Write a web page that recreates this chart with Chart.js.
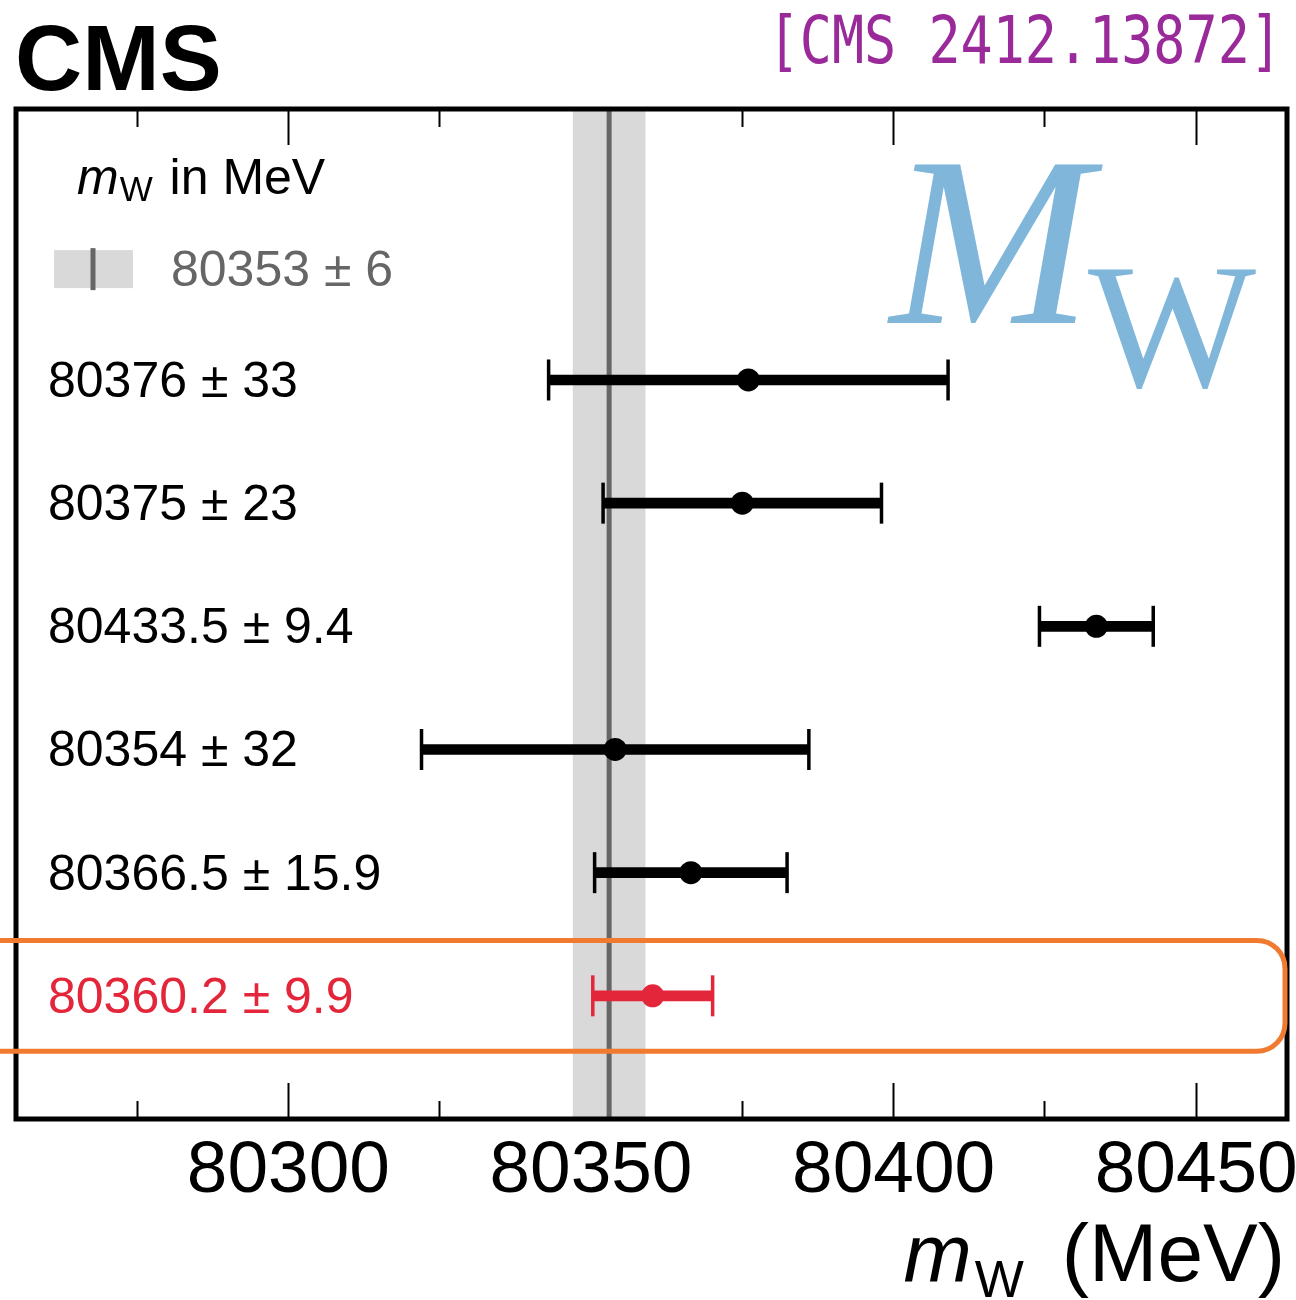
<!DOCTYPE html>
<html><head><meta charset="utf-8">
<script src="https://cdn.jsdelivr.net/npm/chart.js@4/dist/chart.umd.min.js"></script>
<style>html,body{margin:0;padding:0;background:#fff;}#wrap{width:1296px;height:1300px;}</style>
</head><body><div id="wrap"><canvas id="c" width="1296" height="1300"></canvas></div>
<script>
// ---------------- data ----------------
const ROW_LABELS = ['80376 ± 33', '80375 ± 23', '80433.5 ± 9.4', '80354 ± 32', '80366.5 ± 15.9', '80360.2 ± 9.9'];
const CENTRAL = [80376, 80375, 80433.5, 80354, 80366.5, 80360.2];
const ERRORS = [33, 23, 9.4, 32, 15.9, 9.9];
const HIGHLIGHT = [false, false, false, false, false, true];
const REF_VALUE = 80353;
const REF_ERROR = 6;
const REF_LABEL = '80353 ± 6';
const MAJOR_TICKS = [80300, 80350, 80400, 80450];
const MINOR_TICKS = [80275, 80325, 80375, 80425];
const X_MIN = 80255, X_MAX = 80465;

// ---------------- layout / style ----------------
const Y_MAX = 8.2, TITLE_ROW = 7.65, LEGEND_ROW = 6.9;
const BLACK = '#000000', RED = '#e3263a', GRAY_BAND = '#d9d9d9', GRAY_LINE = '#666666';
const ORANGE = '#f07a30', PURPLE = '#9a2a9a', BLUE = 'rgb(127,182,217)';
const SANS = '"Liberation Sans", Arial, Helvetica, sans-serif';
const SERIF = '"Liberation Serif", "Times New Roman", serif';
const MONO = '"DejaVu Sans Mono", monospace';

const nRows = CENTRAL.length;
const rowY = i => nRows - i;
const colorOf = i => HIGHLIGHT[i] ? RED : BLACK;

const barData = CENTRAL.map((c, i) => ({ x: [c - ERRORS[i], c + ERRORS[i]], y: rowY(i) }));
const capData = [];
CENTRAL.forEach((c, i) => { capData.push({ x: c - ERRORS[i], y: rowY(i) }); capData.push({ x: c + ERRORS[i], y: rowY(i) }); });
const pointData = CENTRAL.map((c, i) => ({ x: c, y: rowY(i) }));

function tickAxis(position, values, len, weight, main) {
  return {
    type: 'linear', position, min: X_MIN, max: X_MAX, weight, z: 1, offset: false,
    afterBuildTicks: s => { s.ticks = values.map(v => ({ value: v })); },
    afterFit: s => { s.height = main ? 181 : 0; s.paddingLeft = 0; s.paddingRight = 0; },
    border: { display: false },
    grid: { display: true, offset: false, drawOnChartArea: false, drawTicks: true, tickLength: -len, tickWidth: 2, tickColor: BLACK },
    ticks: main ? { display: true, padding: 45, color: BLACK, font: { family: SANS, size: 73 }, callback: v => String(v), maxRotation: 0, autoSkip: false }
                : { display: false }
  };
}

function text(ctx, str, x, y, font, color, align) {
  ctx.font = font; ctx.fillStyle = color; ctx.textAlign = align || 'left'; ctx.textBaseline = 'alphabetic';
  ctx.fillText(str, x, y);
  return ctx.measureText(str).width;
}

const decor = {
  id: 'decor',
  beforeDatasetsDraw(chart) {
    const { ctx, chartArea: a, scales: { x } } = chart;
    ctx.save();
    const l = x.getPixelForValue(REF_VALUE - REF_ERROR), r = x.getPixelForValue(REF_VALUE + REF_ERROR);
    ctx.fillStyle = GRAY_BAND;
    ctx.fillRect(l, a.top, r - l, a.bottom - a.top);
    const m = x.getPixelForValue(REF_VALUE);
    ctx.strokeStyle = GRAY_LINE; ctx.lineWidth = 5;
    ctx.beginPath(); ctx.moveTo(m, a.top); ctx.lineTo(m, a.bottom); ctx.stroke();
    ctx.restore();
  },
  afterDraw(chart) {
    const { ctx, chartArea: a, scales: { x, y } } = chart;
    ctx.save();
    // frame
    ctx.strokeStyle = BLACK; ctx.lineWidth = 5;
    ctx.strokeRect(a.left, a.top, a.right - a.left, a.bottom - a.top);

    // title row: m_W in MeV
    const ty = y.getPixelForValue(TITLE_ROW) + 17;
    let cx = a.left + 61;
    cx += text(ctx, 'm', cx, ty, 'italic 50px ' + SANS, BLACK);
    cx += 1;
    cx += text(ctx, 'W', cx, ty + 7, '35px ' + SANS, BLACK);
    text(ctx, ' in MeV', cx + 3, ty, '50px ' + SANS, BLACK);

    // legend row
    const ly = y.getPixelForValue(LEGEND_ROW);
    ctx.fillStyle = GRAY_BAND;
    ctx.fillRect(a.left + 38, ly - 19, 79, 38);
    ctx.strokeStyle = GRAY_LINE; ctx.lineWidth = 5;
    ctx.beginPath(); ctx.moveTo(a.left + 77, ly - 21); ctx.lineTo(a.left + 77, ly + 21); ctx.stroke();
    text(ctx, REF_LABEL, a.left + 155, ly + 17, '50px ' + SANS, GRAY_LINE);

    // row labels
    ROW_LABELS.forEach((lab, i) => {
      text(ctx, lab, a.left + 32, y.getPixelForValue(rowY(i)) + 17, '50px ' + SANS, colorOf(i));
    });

    // M_W logo
    ctx.font = 'italic 242px ' + SERIF;
    let mm = ctx.measureText('M');
    ctx.fillStyle = BLUE; ctx.textAlign = 'left'; ctx.textBaseline = 'alphabetic';
    ctx.fillText('M', 887 + mm.actualBoundingBoxLeft, 323);
    ctx.font = '178px ' + SERIF;
    mm = ctx.measureText('W');
    ctx.fillText('W', 1088 + mm.actualBoundingBoxLeft, 386);

    // highlight box
    const hi = HIGHLIGHT.indexOf(true);
    if (hi >= 0) {
      const t = y.getPixelForValue(rowY(hi) + 0.45), b = y.getPixelForValue(rowY(hi) - 0.45);
      const L = -40, R = a.right - 2, rad = 28;
      ctx.strokeStyle = ORANGE; ctx.lineWidth = 5;
      ctx.beginPath();
      ctx.moveTo(L + rad, t);
      ctx.arcTo(R, t, R, b, rad);
      ctx.arcTo(R, b, L, b, rad);
      ctx.arcTo(L, b, L, t, rad);
      ctx.arcTo(L, t, R, t, rad);
      ctx.closePath();
      ctx.stroke();
    }

    // header
    text(ctx, 'CMS', 15, 90, 'bold 93px ' + SANS, BLACK);
    ctx.font = '66px ' + MONO;
    const ref = '[CMS 2412.13872]';
    const mt = ctx.measureText(ref);
    const inkW = mt.actualBoundingBoxLeft + mt.actualBoundingBoxRight;
    const sx = 491 / inkW;
    ctx.save();
    ctx.translate(779, 63);
    ctx.scale(sx, 1);
    ctx.fillStyle = PURPLE; ctx.textAlign = 'left';
    ctx.fillText(ref, mt.actualBoundingBoxLeft, 0);
    ctx.restore();

    // x-axis title: m_W (MeV)
    const base = 1281;
    ctx.font = '82px ' + SANS;
    const pw = ctx.measureText('(MeV)').width;
    text(ctx, '(MeV)', 1285, base, '82px ' + SANS, BLACK, 'right');
    ctx.font = '52px ' + SANS;
    const ww = ctx.measureText('W').width;
    const wx = 1285 - pw - 38 - ww;
    text(ctx, 'W', wx, base + 16, '52px ' + SANS, BLACK);
    ctx.font = 'italic 82px ' + SANS;
    const mw = ctx.measureText('m').width;
    text(ctx, 'm', wx - mw - 3, base, 'italic 82px ' + SANS, BLACK);
    ctx.restore();
  }
};

new Chart(document.getElementById('c'), {
  data: {
    datasets: [
      { type: 'scatter', label: 'points', data: pointData, order: 0,
        pointRadius: 11.5, pointHoverRadius: 11.5, borderWidth: 0,
        backgroundColor: c => colorOf(c.dataIndex), borderColor: c => colorOf(c.dataIndex) },
      { type: 'scatter', label: 'caps', data: capData, order: 1,
        pointStyle: 'line', rotation: 90, pointRadius: 20.5, pointHoverRadius: 20.5, borderWidth: 3.5,
        borderColor: c => colorOf(Math.floor(c.dataIndex / 2)), backgroundColor: c => colorOf(Math.floor(c.dataIndex / 2)) },
      { type: 'bar', label: 'errors', data: barData, order: 2, indexAxis: 'y',
        barThickness: 10, borderWidth: 0, borderSkipped: false,
        backgroundColor: c => colorOf(c.dataIndex) }
    ]
  },
  options: {
    responsive: false, animation: false, devicePixelRatio: 1,
    layout: { autoPadding: false, padding: { left: 16, right: 9, top: 109, bottom: 0 } },
    plugins: { legend: { display: false }, tooltip: { enabled: false } },
    events: [],
    scales: {
      x: tickAxis('bottom', MAJOR_TICKS, 36, 10, true),
      xMinor: tickAxis('bottom', MINOR_TICKS, 18, 0, false),
      xTop: tickAxis('top', MAJOR_TICKS, 36, 0, false),
      xTopMinor: tickAxis('top', MINOR_TICKS, 18, 0, false),
      y: { type: 'linear', min: 0, max: Y_MAX, display: false, offset: false, grid: { offset: false } }
    }
  },
  plugins: [decor]
});
</script>
</body></html>
